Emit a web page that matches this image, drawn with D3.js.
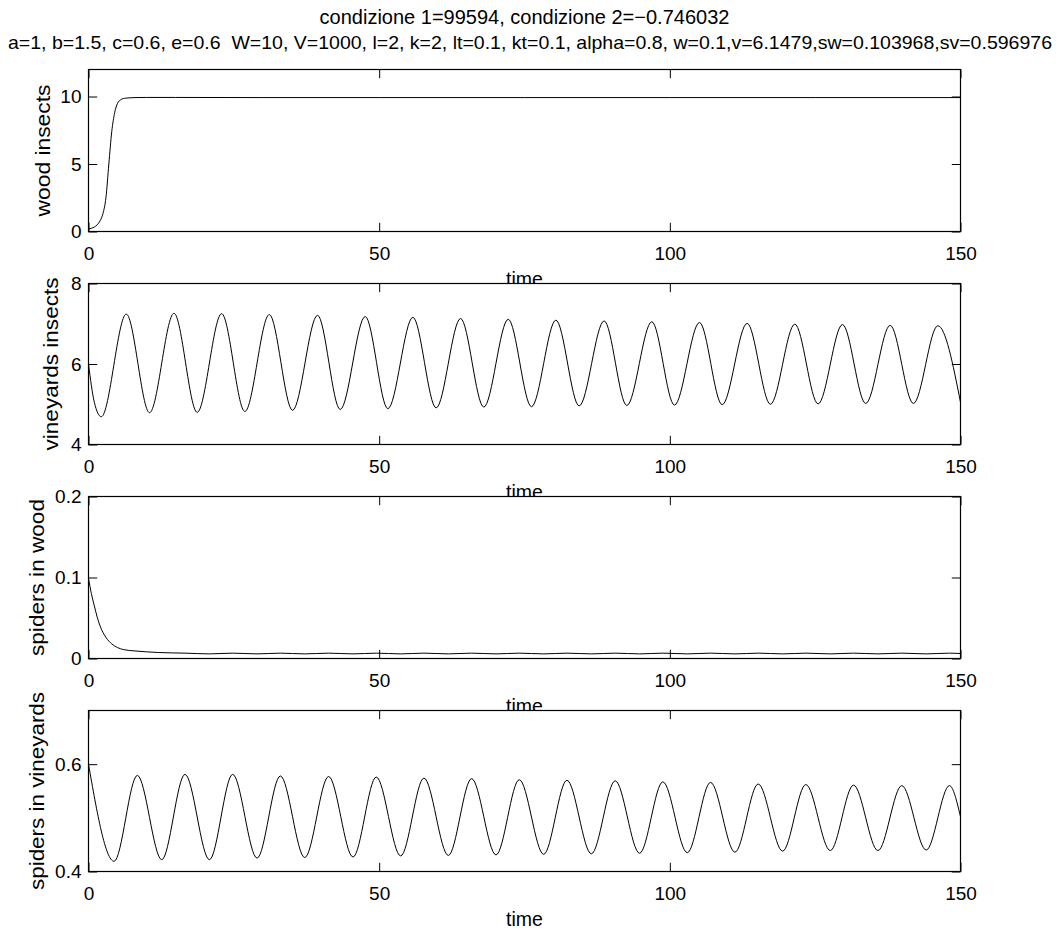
<!DOCTYPE html>
<html>
<head>
<meta charset="utf-8">
<script src="https://cdn.jsdelivr.net/npm/d3@7"></script>
<style>
  body { margin: 0; background: #fff; }
  svg text { font-family: "Liberation Sans", Arial, Helvetica, sans-serif; fill: #000; white-space: pre; }
</style>
</head>
<body>
<svg id="graph" width="1061" height="934"></svg>
<script>
const titleLines = [
  "condizione 1=99594, condizione 2=\u22120.746032",
  "a=1, b=1.5, c=0.6, e=0.6  W=10, V=1000, l=2, k=2, lt=0.1, kt=0.1, alpha=0.8, w=0.1,v=6.1479,sw=0.103968,sv=0.596976"
];
const xTicks = [0, 50, 100, 150];

// wood insects
const woodT = [0, 0.5, 1, 1.5, 2, 2.5, 3, 3.5, 4, 4.5, 5, 5.5, 6, 6.5, 7, 8, 10, 15, 30, 50, 75, 100, 125, 150];
const woodV = [0.18, 0.24, 0.33, 0.5, 0.8, 1.35, 2.5, 5.0, 7.4, 8.8, 9.5, 9.75, 9.85, 9.88, 9.9, 9.92, 9.93, 9.93, 9.92, 9.92, 9.92, 9.92, 9.92, 9.92];

// vineyards insects (start, troughs/peaks alternating, end)
const vineT = [0, 1, 2.2, 6.5, 10.5, 14.7, 18.7, 22.9, 26.9, 31.1, 35.1, 39.4, 43.3, 47.6, 51.5, 55.8, 59.8, 64.0, 68.0, 72.2,
  76.2, 80.4, 84.4, 88.7, 92.6, 96.9, 100.8, 105.1, 109.0, 113.3, 117.3, 121.5, 125.5, 129.7, 133.7, 137.9, 141.9, 146.1, 150];
const vineV = [6.0, 5.05, 4.69, 7.24, 4.79, 7.26, 4.80, 7.25, 4.82, 7.23, 4.85, 7.21, 4.87, 7.18, 4.89, 7.16, 4.91, 7.13, 4.93, 7.11,
  4.94, 7.09, 4.96, 7.07, 4.97, 7.05, 4.98, 7.03, 4.99, 7.01, 5.00, 6.99, 5.01, 6.98, 5.02, 6.96, 5.02, 6.95, 5.05];

// spiders in wood
const spWoodT = [0, 0.5, 1, 1.5, 2, 3, 4, 5, 6, 8, 10, 12, 16.6, 20.8, 24.8, 29.0, 33.0, 37.2, 41.3, 45.5, 49.5, 53.7, 57.7, 61.9,
  65.9, 70.1, 74.1, 78.3, 82.3, 86.5, 90.6, 94.8, 98.8, 103.0, 107.0, 111.2, 115.2, 119.4, 123.4, 127.6, 131.6, 135.8, 139.9, 144.1, 148.1, 150];
const spWoodV = [0.099, 0.08, 0.065, 0.051, 0.04, 0.026, 0.018, 0.0135, 0.011, 0.0093, 0.0082, 0.0074, 0.0066, 0.0057, 0.0066, 0.0057, 0.0066, 0.0057, 0.0066, 0.0057,
  0.0066, 0.0057, 0.0066, 0.0057, 0.0066, 0.0057, 0.0066, 0.0057, 0.0066, 0.0057, 0.0066, 0.0057, 0.0066, 0.0057, 0.0066, 0.0057,
  0.0066, 0.0057, 0.0066, 0.0057, 0.0066, 0.0057, 0.0066, 0.0057, 0.0066, 0.0062];

// spiders in vineyards
const spVineT = [0, 4.4, 8.4, 12.6, 16.6, 20.8, 24.8, 29.0, 33.0, 37.2, 41.3, 45.5, 49.5, 53.7, 57.7, 61.9, 65.9, 70.1, 74.1, 78.3,
  82.3, 86.5, 90.6, 94.8, 98.8, 103.0, 107.0, 111.2, 115.2, 119.4, 123.4, 127.6, 131.6, 135.8, 139.9, 144.1, 148.1, 150];
const spVineV = [0.6, 0.419, 0.579, 0.422, 0.581, 0.422, 0.581, 0.425, 0.578, 0.426, 0.577, 0.427, 0.576, 0.429, 0.574, 0.430, 0.573, 0.431, 0.571, 0.432,
  0.570, 0.433, 0.569, 0.434, 0.567, 0.435, 0.566, 0.436, 0.563, 0.438, 0.562, 0.439, 0.561, 0.439, 0.560, 0.440, 0.560, 0.502];

const panels = [
  { label: "wood insects", t: woodT, v: woodV, yDomain: [0, 12], yTicks: [0, 5, 10], top: 69.5, bottom: 231.5, labelX: 50, labelLen: 132 },
  { label: "vineyards insects", t: vineT, v: vineV, yDomain: [4, 8], yTicks: [4, 6, 8], top: 283.5, bottom: 444.5, labelX: 58, labelLen: 173 },
  { label: "spiders in wood", t: spWoodT, v: spWoodV, yDomain: [0, 0.2], yTicks: [0, 0.1, 0.2], top: 496.5, bottom: 658.5, labelX: 43.5, labelLen: 157 },
  { label: "spiders in vineyards", t: spVineT, v: spVineV, yDomain: [0.4, 0.7], yTicks: [0.4, 0.6], top: 710.5, bottom: 871.5, labelX: 43.5, labelLen: 198 }
];

const svg = d3.select("#graph");
const left = 88.5, right = 960.5;
const tickLen = 8.7;
const tickFont = 19;

const x = d3.scaleLinear().domain([0, 150]).range([left, right]);

svg.append("text")
  .attr("x", (left + right) / 2)
  .attr("y", 24)
  .attr("text-anchor", "middle")
  .style("font-size", "20px")
  .text(titleLines[0]);

svg.append("text")
  .attr("x", 8)
  .attr("y", 49)
  .attr("textLength", 1044)
  .attr("lengthAdjust", "spacingAndGlyphs")
  .style("font-size", "19px")
  .text(titleLines[1]);

panels.forEach(function(p) {
  const y = d3.scaleLinear().domain(p.yDomain).range([p.bottom, p.top]);
  const g = svg.append("g");

  // white axes background hides the previous panel's xlabel, like in the original
  g.append("rect")
    .attr("x", left).attr("y", p.top)
    .attr("width", right - left).attr("height", p.bottom - p.top)
    .attr("fill", "#fff")
    .attr("stroke", "#000")
    .attr("stroke-width", 1.2);

  const line = d3.line()
    .x((d, i) => x(p.t[i]))
    .y(d => y(d))
    .curve(d3.curveMonotoneX);

  g.append("path")
    .datum(p.v)
    .attr("d", line)
    .attr("fill", "none")
    .attr("stroke", "#000")
    .attr("stroke-width", 1);

  // x ticks bottom and top, inward
  g.append("g")
    .attr("transform", `translate(0,${p.bottom})`)
    .call(d3.axisBottom(x).tickValues(xTicks).tickSize(-tickLen).tickPadding(tickLen + 6).tickFormat(d3.format("d")))
    .call(a => a.select(".domain").remove());
  g.append("g")
    .attr("transform", `translate(0,${p.top})`)
    .call(d3.axisTop(x).tickValues(xTicks).tickSize(-tickLen).tickFormat(""))
    .call(a => a.select(".domain").remove());

  // y ticks left and right, inward
  g.append("g")
    .attr("transform", `translate(${left},0)`)
    .call(d3.axisLeft(y).tickValues(p.yTicks).tickSize(-tickLen).tickPadding(7).tickFormat(d => String(d)))
    .call(a => a.select(".domain").remove());
  g.append("g")
    .attr("transform", `translate(${right},0)`)
    .call(d3.axisRight(y).tickValues(p.yTicks).tickSize(-tickLen).tickFormat(""))
    .call(a => a.select(".domain").remove());

  g.selectAll(".tick line").attr("stroke", "#000");
  g.selectAll(".tick text")
    .style("font-size", tickFont + "px")
    .style("font-family", "'Liberation Sans', Arial, sans-serif");

  g.append("text")
    .attr("x", (left + right) / 2)
    .attr("y", p.bottom + 54)
    .attr("text-anchor", "middle")
    .style("font-size", "19.5px")
    .text("time");

  g.append("text")
    .attr("transform", `translate(${p.labelX},${(p.top + p.bottom) / 2}) rotate(-90)`)
    .attr("text-anchor", "middle")
    .attr("textLength", p.labelLen)
    .attr("lengthAdjust", "spacingAndGlyphs")
    .style("font-size", "20px")
    .text(p.label);
});
</script>
</body>
</html>
